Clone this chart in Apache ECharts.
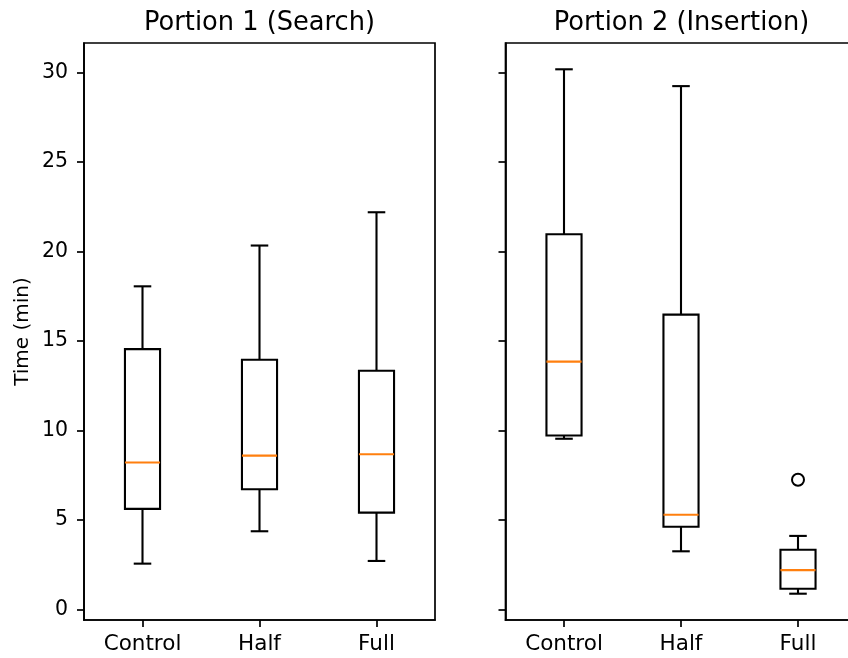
<!DOCTYPE html>
<html><head><meta charset="utf-8">
<script src="https://cdn.jsdelivr.net/npm/echarts@6/dist/echarts.min.js"></script>
<style>html,body{margin:0;padding:0;background:#fff}#c{width:848px;height:658px}</style>
</head><body><div id="c"></div>
<script>
const categories = ['Control', 'Half', 'Full'];
const titles = ['Portion 1 (Search)', 'Portion 2 (Insertion)'];
const yName = 'Time (min)';
// each box: [low whisker, Q1, median, Q3, high whisker]
const searchBoxes = [
  [2.56, 5.62, 8.21, 14.55, 18.06],
  [4.37, 6.72, 8.60, 13.96, 20.34],
  [2.71, 5.41, 8.67, 13.34, 22.20]
];
const insertionBoxes = [
  [9.54, 9.72, 13.85, 20.97, 30.19],
  [3.25, 4.62, 5.29, 16.48, 29.25],
  [0.88, 1.16, 2.20, 3.34, 4.11]
];
const insertionOutliers = [[2, 7.25]]; // [category index, value]
const yTicks = [0, 5, 10, 15, 20, 25, 30];
const yMin = -0.59, yMax = 31.66;

const FONT = 'DejaVu Sans';
const BLACK = '#000000';
const ORANGE = '#ff7f0e';

function renderBox(params, api) {
  const c = api.value(0);
  const pLow = api.coord([c, api.value(1)]);
  const pQ1 = api.coord([c, api.value(2)]);
  const pMed = api.coord([c, api.value(3)]);
  const pQ3 = api.coord([c, api.value(4)]);
  const pHigh = api.coord([c, api.value(5)]);
  const band = api.size([1, 0])[0];
  const bw = band * 0.3, cw = bw / 2;
  const x = pMed[0];
  const ls = { stroke: BLACK, lineWidth: 2.1, fill: null };
  return {
    type: 'group',
    children: [
      { type: 'line', shape: { x1: x, y1: pQ1[1], x2: x, y2: pLow[1] }, style: ls },
      { type: 'line', shape: { x1: x, y1: pQ3[1], x2: x, y2: pHigh[1] }, style: ls },
      { type: 'line', shape: { x1: x - cw / 2, y1: pLow[1], x2: x + cw / 2, y2: pLow[1] }, style: ls },
      { type: 'line', shape: { x1: x - cw / 2, y1: pHigh[1], x2: x + cw / 2, y2: pHigh[1] }, style: ls },
      { type: 'rect', shape: { x: x - bw / 2, y: pQ3[1], width: bw, height: pQ1[1] - pQ3[1] },
        style: { stroke: BLACK, lineWidth: 2.1, fill: 'none' } },
      { type: 'line', shape: { x1: x - bw / 2, y1: pMed[1], x2: x + bw / 2, y2: pMed[1] },
        style: { stroke: ORANGE, lineWidth: 2.1, fill: null } }
    ]
  };
}

function xAxis(gi) {
  return {
    type: 'category', gridIndex: gi, data: categories, boundaryGap: true,
    axisLine: { show: true, onZero: false, lineStyle: { color: BLACK, width: 1.7 } },
    axisTick: { show: true, alignWithLabel: true, length: 7, lineStyle: { color: BLACK, width: 1.7 } },
    axisLabel: { color: BLACK, fontSize: 21.5, fontFamily: FONT, margin: 13 },
    splitLine: { show: false }
  };
}
function yAxis(gi, labels) {
  return {
    type: 'value', gridIndex: gi, min: yMin, max: yMax,
    name: labels ? yName : '', nameLocation: 'middle', nameGap: 51,
    nameTextStyle: { color: BLACK, fontSize: 20, fontFamily: FONT },
    axisLine: { show: true, onZero: false, lineStyle: { color: BLACK, width: 1.7 } },
    axisTick: { show: true, length: 7, customValues: yTicks, lineStyle: { color: BLACK, width: 1.7 } },
    axisLabel: { show: labels, customValues: yTicks, color: BLACK, fontSize: 20.5, fontFamily: FONT, margin: 16 },
    splitLine: { show: false }
  };
}

const chart = echarts.init(document.getElementById('c'), null, { renderer: 'canvas' });
chart.setOption({
  animation: false,
  backgroundColor: '#ffffff',
  title: [
    { text: titles[0], left: 259.5, top: 10, padding: 0, textAlign: 'center',
      textStyle: { color: BLACK, fontSize: 25.7, fontWeight: 'normal', fontFamily: FONT } },
    { text: titles[1], left: 681.5, top: 10, padding: 0, textAlign: 'center',
      textStyle: { color: BLACK, fontSize: 25.7, fontWeight: 'normal', fontFamily: FONT } }
  ],
  grid: [
    { left: 84, top: 43, width: 351, height: 577, outerBoundsMode: 'none', containLabel: false,
      show: true, borderColor: BLACK, borderWidth: 1.7, backgroundColor: 'transparent' },
    { left: 505.5, top: 43, width: 351, height: 577, outerBoundsMode: 'none', containLabel: false,
      show: true, borderColor: BLACK, borderWidth: 1.7, backgroundColor: 'transparent' }
  ],
  xAxis: [xAxis(0), xAxis(1)],
  yAxis: [yAxis(0, true), yAxis(1, false)],
  series: [
    { type: 'custom', xAxisIndex: 0, yAxisIndex: 0, renderItem: renderBox,
      encode: { x: 0, y: [1, 2, 3, 4, 5] },
      data: searchBoxes.map((b, i) => [i].concat(b)) },
    { type: 'custom', xAxisIndex: 1, yAxisIndex: 1, renderItem: renderBox,
      encode: { x: 0, y: [1, 2, 3, 4, 5] },
      data: insertionBoxes.map((b, i) => [i].concat(b)) },
    { type: 'scatter', xAxisIndex: 1, yAxisIndex: 1, symbol: 'circle', symbolSize: 12,
      itemStyle: { color: 'rgba(0,0,0,0)', borderColor: BLACK, borderWidth: 2, opacity: 1 },
      data: insertionOutliers }
  ]
});
</script></body></html>
